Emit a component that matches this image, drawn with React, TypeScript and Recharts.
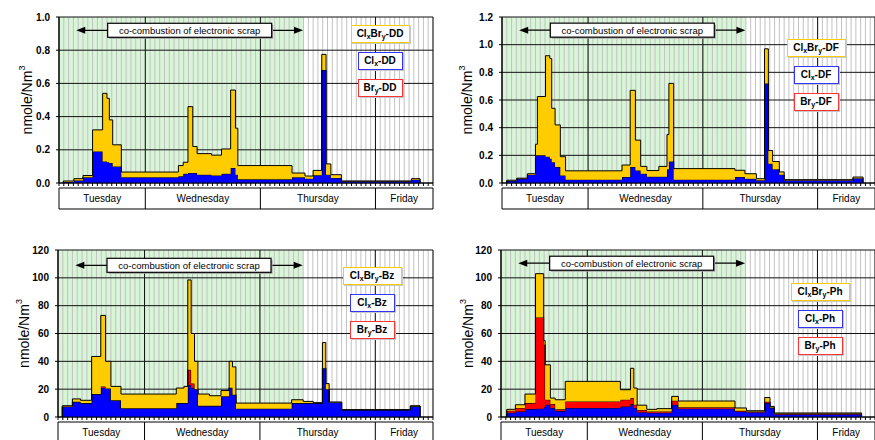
import React from 'react';
import {
  ComposedChart,
  Area,
  XAxis,
  YAxis,
  CartesianGrid,
  ReferenceArea,
  ReferenceLine,
  Legend,
} from 'recharts';

const FONT = '"Liberation Sans", Arial, Helvetica, sans-serif';

// x axis = hours counted from Tuesday 00:00
const dayNames = ['Tuesday', 'Wednesday', 'Thursday', 'Friday'];
const dayBounds = [6, 24, 48, 72, 84];
const dayMids = [15, 36, 60, 78];
const hourTicks = Array.from({ length: 79 }, (_, i) => 6 + i);
const coCombustion = [6, 57];
const arrowSpan = [9.6, 56.9];
const arrowText = 'co-combustion of electronic scrap';

const yTicksDD = [0, 0.2, 0.4, 0.6, 0.8, 1.0];
const yTicksDF = [0, 0.2, 0.4, 0.6, 0.8, 1.0, 1.2];
const yTicks120 = [0, 20, 40, 60, 80, 100, 120];

// ---- PCDD (dioxins) : sample start times, ClxBry / Clx / Bry layers
const ddTimes = [6.9, 9.1, 11.0, 13.0, 15.1, 16.0, 16.5, 17.2, 19.0, 30.9, 31.9, 32.9, 33.9, 34.8, 37.8, 39.9, 41.8, 42.8, 43.3, 54.6, 57.3, 59.0, 60.8, 61.7, 62.7, 64.9, 79.5];
const ddEnd = 81.3;
const ddCl = [0.006, 0.015, 0.035, 0.19, 0.13, 0.125, 0.12, 0.1, 0.035, 0.04, 0.055, 0.06, 0.06, 0.05, 0.045, 0.055, 0.09, 0.05, 0.022, 0.035, 0.026, 0.046, 0.68, 0.05, 0.03, 0.01, 0.02];
const ddMix = [0.006, 0.011, 0.01, 0.13, 0.41, 0.385, 0.26, 0.13, 0.031, 0.065, 0.07, 0.4, 0.16, 0.127, 0.123, 0.15, 0.47, 0.28, 0.083, 0.025, 0.016, 0.03, 0.095, 0.065, 0.02, 0.002, 0.006];

// ---- PCDF (furans)
const dfTimes = [7.0, 9.1, 11.3, 13.0, 13.4, 15.1, 16.0, 16.4, 17.1, 18.2, 19.3, 31.1, 32.8, 33.9, 35.0, 36.3, 38.8, 40.5, 40.9, 41.9, 54.7, 56.8, 59.2, 60.9, 61.7, 62.6, 64.0, 65.0, 79.4];
const dfEnd = 81.5;
const dfCl = [0.015, 0.03, 0.06, 0.2, 0.2, 0.19, 0.176, 0.15, 0.115, 0.055, 0.024, 0.043, 0.116, 0.09, 0.067, 0.045, 0.045, 0.1, 0.156, 0.024, 0.043, 0.03, 0.02, 0.72, 0.14, 0.1, 0.06, 0.02, 0.035];
const dfMix = [0.005, 0.005, 0.007, 0.08, 0.425, 0.73, 0.724, 0.39, 0.305, 0.135, 0.064, 0.087, 0.554, 0.22, 0.053, 0.045, 0.075, 0.25, 0.564, 0.08, 0.049, 0.037, 0.011, 0.25, 0.095, 0.055, 0.02, 0.004, 0.008];

// ---- Benzenes
const bzTimes = [6.9, 9.0, 10.7, 13.0, 14.9, 15.9, 17.0, 19.1, 30.6, 32.2, 33.0, 33.7, 34.4, 35.1, 37.5, 39.9, 41.6, 42.3, 43.0, 54.6, 57.0, 59.1, 61.0, 61.7, 62.4, 65.0, 79.3];
const bzEnd = 81.3;
const bzCl = [7.5, 11, 10, 16.5, 21, 20.5, 12, 6.3, 10, 10, 23, 21, 20, 8, 8, 15, 21, 16, 6, 10, 10, 10, 35, 20, 10.5, 5.1, 7.8];
const bzBr = [0, 0, 0, 0, 1, 0, 0, 0, 0, 0, 11, 3, 0, 0, 0, 0, 0, 0, 0, 0, 0, 0, 0, 0, 0, 0, 0];
const bzMix = [0.6, 2, 2, 27, 51, 19.5, 10, 10.2, 10.8, 12, 64.5, 36, 20, 8.5, 7.3, 4, 19, 20, 4, 2.4, 1.2, 0.2, 18.5, 4, 0.2, 0.2, 0.2];

// ---- Phenols
const phTimes = [7.2, 9.0, 11.0, 13.2, 14.9, 15.2, 16.3, 17.3, 19.4, 30.9, 33.0, 33.7, 34.4, 36.4, 38.5, 41.6, 43.0, 54.8, 57.2, 61.0, 62.1, 63.0];
const phEnd = 81.2;
const phCl = [3, 4, 5.7, 6, 7, 8.8, 6.5, 4.3, 6.5, 7.6, 9.3, 6.5, 3.5, 3, 3, 8.8, 6, 4, 3.5, 10, 6.5, 2];
const phBr = [1.5, 2.5, 4.3, 65.5, 45, 3.6, 2.8, 1.2, 4.7, 4.8, 4.3, 2.3, 1.5, 1, 1, 2.9, 1, 0.5, 0.5, 1, 0.3, 0.5];
const phMix = [1, 2.3, 6.5, 31.5, 3, 25.1, 4.3, 6.9, 14.4, 7.2, 21.4, 12, 3.5, 1.5, 2, 3.1, 4.5, 2, 0.5, 3, 0.8, 0.4];

function buildRows(times: number[], end: number, cl: number[], br: number[] | null, mix: number[]) {
  const rows: any[] = [{ t: times[0], cl: 0, br: 0, mix: 0 }];
  times.forEach((t, i) => rows.push({ t, cl: cl[i], br: br ? br[i] : 0, mix: mix[i] }));
  rows.push({ t: end, cl: 0, br: 0, mix: 0 });
  return rows;
}

const NoTick = () => null;

const ArrowShape = (p: any) => {
  const { x1, y1, x2 } = p;
  const y = y1;
  const mid = (x1 + x2) / 2;
  const bw = 164;
  const bh = 14;
  return (
    <g>
      <line x1={x1 + 6} y1={y} x2={x2 - 6} y2={y} stroke="#000" strokeWidth={1.3} />
      <polygon points={`${x1},${y} ${x1 + 9},${y - 3.5} ${x1 + 9},${y + 3.5}`} fill="#000" />
      <polygon points={`${x2},${y} ${x2 - 9},${y - 3.5} ${x2 - 9},${y + 3.5}`} fill="#000" />
      <rect x={mid - bw / 2 + 1.5} y={y - bh / 2 + 1.5} width={bw} height={bh} fill="#a0a0a0" />
      <rect x={mid - bw / 2} y={y - bh / 2} width={bw} height={bh} fill="#fff" stroke="#000" strokeWidth={1.2} />
      <text x={mid} y={y + 3.5} textAnchor="middle" fontSize={9.5} fontFamily={FONT} fill="#000">
        {arrowText}
      </text>
    </g>
  );
};

const DayTick = (props: any) => {
  const { x, y, payload } = props;
  const i = dayMids.indexOf(payload.value);
  return (
    <text x={x} y={y - 7} textAnchor="middle" fontSize={10} fontFamily={FONT} fill="#000">
      {dayNames[i]}
    </text>
  );
};

const boxBase: React.CSSProperties = {
  height: 18,
  boxSizing: 'border-box',
  background: '#fff',
  display: 'flex',
  alignItems: 'center',
  justifyContent: 'center',
  fontSize: 10,
  fontWeight: 'bold',
  fontFamily: FONT,
  color: '#000',
  lineHeight: '12px',
  whiteSpace: 'nowrap',
  boxShadow: '1px 1px 0 #c8c8c8',
};
const subStyle: React.CSSProperties = { fontSize: 7, position: 'relative', top: 3, lineHeight: 0 };

const LegendBoxes = ({ suffix }: { suffix: string }) => (
  <div style={{ display: 'flex', flexDirection: 'column', alignItems: 'center', width: 62 }}>
    <div style={{ ...boxBase, width: 59, border: '1.5px solid #ffcc00' }}>
      Cl<span style={subStyle}>x</span>Br<span style={subStyle}>y</span>-{suffix}
    </div>
    <div style={{ ...boxBase, width: 45, border: '1.5px solid #3333ff', marginTop: 9 }}>
      Cl<span style={subStyle}>x</span>-{suffix}
    </div>
    <div style={{ ...boxBase, width: 45, border: '1.5px solid #ff3333', marginTop: 9 }}>
      Br<span style={subStyle}>y</span>-{suffix}
    </div>
  </div>
);

const YLabel = (props: any) => {
  const vb = props.viewBox || { x: 0, y: 0, width: 0, height: 0 };
  const cx = vb.x + props.dxLabel;
  const cy = vb.y + vb.height / 2;
  return (
    <text
      x={cx}
      y={cy}
      transform={`rotate(-90 ${cx} ${cy})`}
      textAnchor="middle"
      dominantBaseline="central"
      fontSize={14}
      fontFamily={FONT}
      fill="#000"
    >
      nmole/Nm<tspan dy={-5} fontSize={9}>3</tspan>
    </text>
  );
};

type Cfg = {
  left: number;
  top: number;
  width: number;
  height: number;
  margin: { top: number; right: number; left: number; bottom: number };
  yWidth: number;
  yDomain: [number, number];
  yTicks: number[];
  yFmt: (v: number) => string;
  rows: any[];
  hasBr: boolean;
  suffix: string;
  legendLeft: number;
  legendTop: number;
  arrowY: number;
  labelDx: number;
};

function Panel({ cfg }: { cfg: Cfg }) {
  return (
    <div style={{ position: 'absolute', left: cfg.left, top: cfg.top }}>
      <ComposedChart width={cfg.width} height={cfg.height} data={cfg.rows} margin={cfg.margin}>
        <ReferenceArea
          xAxisId="a"
          x1={coCombustion[0]}
          x2={coCombustion[1]}
          fill="#d8f5d8"
          fillOpacity={1}
          stroke="none"
          ifOverflow="hidden"
          zIndex={-200}
        />
        <CartesianGrid xAxisId="a" horizontal={false} stroke="#c2c2c2" />
        <CartesianGrid xAxisId="b" stroke="#111" />
        <XAxis
          xAxisId="a"
          type="number"
          dataKey="t"
          domain={[6, 84]}
          allowDataOverflow
          ticks={hourTicks}
          interval={0}
          tick={NoTick}
          tickSize={3}
          height={5}
          axisLine={{ stroke: '#000' }}
          tickLine={{ stroke: '#000' }}
        />
        <XAxis
          xAxisId="b"
          type="number"
          dataKey="t"
          domain={[6, 84]}
          allowDataOverflow
          ticks={dayBounds}
          interval={0}
          tick={NoTick}
          tickSize={21}
          height={21}
          axisLine={{ stroke: '#000' }}
          tickLine={{ stroke: '#000' }}
        />
        <XAxis
          xAxisId="c"
          type="number"
          dataKey="t"
          domain={[6, 84]}
          allowDataOverflow
          ticks={dayMids}
          interval={0}
          tick={<DayTick />}
          tickLine={false}
          tickSize={0}
          tickMargin={0}
          height={2}
          axisLine={{ stroke: '#000' }}
        />
        <YAxis
          type="number"
          domain={cfg.yDomain}
          allowDataOverflow
          ticks={cfg.yTicks}
          interval={0}
          width={cfg.yWidth}
          tickSize={3}
          tickMargin={6}
          tickFormatter={cfg.yFmt}
          tick={{ fontSize: 10, fontWeight: 'bold', fill: '#000', fontFamily: FONT }}
          axisLine={{ stroke: '#000' }}
          tickLine={{ stroke: '#000' }}
          label={<YLabel dxLabel={cfg.labelDx} />}
        />
        <Area
          xAxisId="a"
          type="stepAfter"
          dataKey="cl"
          stackId="s"
          fill="#0000ff"
          fillOpacity={1}
          stroke="#000"
          strokeWidth={1}
          dot={false}
          activeDot={false}
          isAnimationActive={false}
        />
        {cfg.hasBr && (
          <Area
            xAxisId="a"
            type="stepAfter"
            dataKey="br"
            stackId="s"
            fill="#ff0000"
            fillOpacity={1}
            stroke="#000"
            strokeWidth={1}
            dot={false}
            activeDot={false}
            isAnimationActive={false}
          />
        )}
        <Area
          xAxisId="a"
          type="stepAfter"
          dataKey="mix"
          stackId="s"
          fill="#ffcc00"
          fillOpacity={1}
          stroke="#000"
          strokeWidth={1}
          dot={false}
          activeDot={false}
          isAnimationActive={false}
        />
        <ReferenceLine
          xAxisId="a"
          segment={[
            { x: arrowSpan[0], y: cfg.arrowY },
            { x: arrowSpan[1], y: cfg.arrowY },
          ]}
          shape={ArrowShape}
          ifOverflow="visible"
        />
        <Legend
          layout="vertical"
          align="center"
          verticalAlign="middle"
          wrapperStyle={{ left: cfg.legendLeft, top: cfg.legendTop, width: 62 }}
          content={() => <LegendBoxes suffix={cfg.suffix} />}
        />
      </ComposedChart>
    </div>
  );
}

const fmt1 = (v: number) => v.toFixed(1);
const fmt0 = (v: number) => String(v);

const panels: Cfg[] = [
  {
    left: 0, top: 0, width: 440, height: 220,
    margin: { top: 17, right: 7, left: 0, bottom: 9 },
    yWidth: 59, yDomain: [0, 1], yTicks: yTicksDD, yFmt: fmt1,
    rows: buildRows(ddTimes, ddEnd, ddCl, null, ddMix), hasBr: false, suffix: 'DD',
    legendLeft: 349, legendTop: 25, arrowY: 0.92, labelDx: 27,
  },
  {
    left: 440, top: 0, width: 435, height: 220,
    margin: { top: 17, right: 0, left: 0, bottom: 9 },
    yWidth: 62, yDomain: [0, 1.2], yTicks: yTicksDF, yFmt: fmt1,
    rows: buildRows(dfTimes, dfEnd, dfCl, null, dfMix), hasBr: false, suffix: 'DF',
    legendLeft: 345, legendTop: 39, arrowY: 1.105, labelDx: 27,
  },
  {
    left: 0, top: 220, width: 440, height: 240,
    margin: { top: 30, right: 7, left: 0, bottom: 15 },
    yWidth: 58, yDomain: [0, 120], yTicks: yTicks120, yFmt: fmt0,
    rows: buildRows(bzTimes, bzEnd, bzCl, bzBr, bzMix), hasBr: true, suffix: 'Bz',
    legendLeft: 341, legendTop: 47, arrowY: 109, labelDx: 24,
  },
  {
    left: 440, top: 220, width: 435, height: 240,
    margin: { top: 30, right: 0, left: 0, bottom: 15 },
    yWidth: 61, yDomain: [0, 120], yTicks: yTicks120, yFmt: fmt0,
    rows: buildRows(phTimes, phEnd, phCl, phBr, phMix), hasBr: true, suffix: 'Ph',
    legendLeft: 349, legendTop: 63, arrowY: 110.5, labelDx: 28,
  },
];

export default function App() {
  return (
    <div
      style={{
        position: 'absolute',
        left: 0,
        top: 0,
        width: 875,
        height: 440,
        overflow: 'hidden',
        background: '#fff',
        fontFamily: FONT,
      }}
    >
      {panels.map((cfg, i) => (
        <Panel key={i} cfg={cfg} />
      ))}
    </div>
  );
}
